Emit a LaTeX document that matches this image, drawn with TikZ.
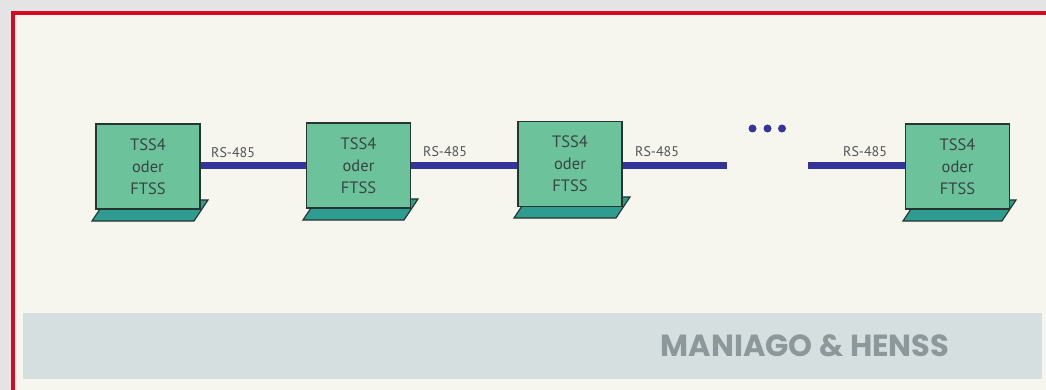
\documentclass[tikz,border=0pt]{standalone}
\usepackage{fontspec}
\setmainfont{PT Sans}
\newfontfamily\logofont{Poppins}
\definecolor{paper}{HTML}{F7F6EE}
\definecolor{margin}{HTML}{E4E4E4}
\definecolor{frame}{HTML}{D50A22}
\definecolor{band}{HTML}{D6DFE0}
\definecolor{bandtext}{HTML}{8D989B}
\definecolor{unitfill}{HTML}{6CC39B}
\definecolor{basefill}{HTML}{2F9C92}
\definecolor{edge}{HTML}{26352F}
\definecolor{bus}{HTML}{35349A}
\definecolor{labeltext}{HTML}{505458}
\definecolor{unittext}{HTML}{3A4440}
\tikzset{
  x=1pt, y=-1pt,
  unit/.style={draw=edge, line width=1.4pt, fill=unitfill, minimum width=104pt,
    minimum height=85pt, inner sep=0pt, align=center, text=unittext,
    font=\fontsize{16.5}{22}\selectfont},
  slab/.style={draw=edge, line width=1.2pt, fill=basefill},
  buswire/.style={draw=bus, line width=7pt},
  buslabel/.style={anchor=west, inner sep=0pt, text=labeltext,
    font=\fontsize{14}{15}\selectfont},
  busdot/.style={circle, fill=bus, minimum size=8pt, inner sep=0pt},
}
\newcommand{\slabunder}[3]{% left, right, bottom of a unit
  \path[slab] ({#1-4},{#3+12}) -- ({#2-6},{#3+12}) -- ({#2+8},{#3-9}) -- ({#1+10},{#3-9}) -- cycle;}
\begin{document}
\begin{tikzpicture}
\useasboundingbox (0,0) rectangle (1046,390);
% page margin, frame and paper
\fill[margin] (0,0) rectangle (1046,390);
\fill[paper] (12.5,13) rectangle (1046,390);
\draw[frame, line width=4pt] (12.5,390) -- (12.5,13) -- (1046,13);
% footer band
\fill[band] (23,313) rectangle (1042,379);
\node[text=bandtext, font=\logofont\bfseries\fontsize{30.5}{32}\selectfont, inner sep=0pt]
  (brand) at (805,346) {MANIAGO \& HENSS};
% slabs under the units
\slabunder{96}{200}{209}
\slabunder{307}{410}{208}
\slabunder{518}{622}{206}
\slabunder{907}{1008}{209}
% units
\node[unit] (u1) at (148,166.5) {TSS4\\oder\\FTSS};
\node[unit] (u2) at (358.5,165.5) {TSS4\\oder\\FTSS};
\node[unit] (u3) at (570,164) {TSS4\\oder\\FTSS};
\node[unit] (u5) at (957.5,166.5) {TSS4\\oder\\FTSS};
% bus segments
\coordinate (gapL) at (727,166);
\coordinate (gapR) at (808,166);
\draw[buswire] (u1.east |- 0,166) -- (u2.west |- 0,166);
\draw[buswire] (u2.east |- 0,166) -- (u3.west |- 0,166);
\draw[buswire] (u3.east |- 0,166) -- (gapL);
\draw[buswire] (gapR) -- (u5.west |- 0,166);
% bus labels
\node[buslabel] (l1) at (211,153) {RS-485};
\node[buslabel] (l2) at (423,152) {RS-485};
\node[buslabel] (l3) at (635,152) {RS-485};
\node[buslabel] (l4) at (843,152) {RS-485};
% continuation dots
\node[busdot] (d1) at (752.5,128.5) {};
\node[busdot] (d2) at (767.5,128.5) {};
\node[busdot] (d3) at (782,128.5) {};
\end{tikzpicture}
\end{document}
